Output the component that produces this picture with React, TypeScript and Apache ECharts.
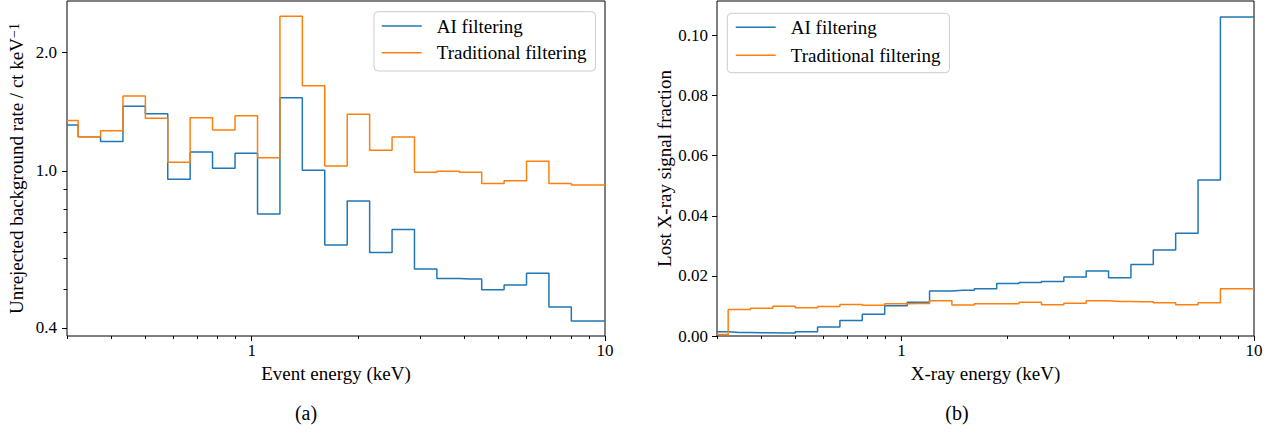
import React, { useEffect, useRef } from "react";
import * as echarts from "echarts";

// Energy grid (keV), one point per bin centre
const energies = [
  0.3, 0.3471, 0.4016, 0.4648, 0.5378, 0.6223, 0.7201, 0.8333, 0.9655, 1.1173,
  1.2929, 1.4962, 1.7321, 2.0046, 2.3203, 2.6852, 3.1075, 3.5962, 4.1617, 4.8161,
  5.5736, 6.4502, 7.4647, 8.6385, 10,
];

// (a) Unrejected background rate / ct keV^-1
const bgAI = [
  1.308, 1.222, 1.187, 1.459, 1.397, 0.953, 1.117, 1.016, 1.109, 0.778,
  1.534, 1.004, 0.649, 0.839, 0.621, 0.71, 0.564, 0.534, 0.532, 0.5,
  0.514, 0.55, 0.452, 0.4165, 0.4165,
];
const bgTrad = [
  1.342, 1.222, 1.265, 1.549, 1.36, 1.052, 1.365, 1.27, 1.381, 1.081,
  2.468, 1.646, 1.03, 1.393, 1.128, 1.22, 0.992, 0.998, 0.992, 0.929,
  0.945, 1.058, 0.929, 0.922, 0.922,
];

// (b) Lost X-ray signal fraction
const lostAI = [
  0.0014, 0.0012, 0.0011, 0.001, 0.0014, 0.003, 0.0052, 0.0072, 0.0101, 0.0112,
  0.015, 0.0152, 0.0157, 0.0175, 0.0178, 0.0181, 0.0196, 0.0216, 0.0194, 0.0238,
  0.0286, 0.0342, 0.0519, 0.1062, 0.1062,
];
const lostTrad = [
  0.0005, 0.0088, 0.0092, 0.0099, 0.0094, 0.0098, 0.0105, 0.0102, 0.0107, 0.0108,
  0.0117, 0.0103, 0.0107, 0.0107, 0.0112, 0.0104, 0.0109, 0.0117, 0.0115, 0.0114,
  0.0111, 0.0104, 0.0111, 0.0157, 0.0157,
];

const seriesNames = ["AI filtering", "Traditional filtering"];
const xMajorTicks = [1, 10];
const xMinorTicks = [0.3, 0.4, 0.5, 0.6, 0.7, 0.8, 0.9, 2, 3, 4, 5, 6, 7, 8, 9];
const bgLabelTicks = [0.4, 1, 2];
const bgMinorTicks = [0.5, 0.6, 0.7, 0.8, 0.9];
const lostTicks = [0, 0.02, 0.04, 0.06, 0.08, 0.1];

const FONT = "Liberation Serif";
const BLUE = "#1f77b4";
const ORANGE = "#ff7f0e";

const pairs = (ys: number[]) => energies.map((x, i) => [x, ys[i]]);

export default function App() {
  const ref = useRef<HTMLDivElement>(null);
  useEffect(() => {
    if (!ref.current) return;
    const chart = echarts.init(ref.current, null, { renderer: "svg" });

    const labelStyle = { fontFamily: FONT, fontSize: 17, color: "#000" };
    const nameStyle = { fontFamily: FONT, fontSize: 19, color: "#000" };

    const logX = (grid: number, major: boolean, name?: string) => ({
      type: "log",
      logBase: 10,
      gridIndex: grid,
      position: "bottom",
      min: 0.3,
      max: 10,
      name: major ? name : undefined,
      nameLocation: "middle",
      nameGap: 23,
      nameTextStyle: nameStyle,
      axisLine: { show: false },
      splitLine: { show: false },
      minorTick: { show: false },
      axisTick: {
        show: true,
        inside: false,
        length: major ? 5 : 3,
        customValues: major ? xMajorTicks : xMinorTicks,
        lineStyle: { color: "#000", width: 1 },
      },
      axisLabel: major
        ? {
            show: true,
            margin: 6,
            customValues: xMajorTicks,
            formatter: (v: number) => String(Math.round(v)),
            ...labelStyle,
          }
        : { show: false },
    });

    const legendBase = {
      orient: "vertical",
      selectedMode: false,
      data: seriesNames,
      itemWidth: 40,
      itemHeight: 20,
      itemStyle: { opacity: 0, color: "transparent", borderWidth: 0 },
      lineStyle: { width: 1.5 },
      borderColor: "#cccccc",
      borderWidth: 1,
      borderRadius: 4,
      backgroundColor: "rgba(255,255,255,0.8)",
      textStyle: {
        fontFamily: FONT,
        fontSize: 19,
        color: "#000",
        lineHeight: 20,
        padding: [0, 0, 0, 10],
      },
    };

    const lineSeries = (name: string, data: number[], color: string, xi: number, yi: number) => ({
      name,
      type: "line",
      step: "middle",
      data: pairs(data),
      xAxisIndex: xi,
      yAxisIndex: yi,
      symbol: "none",
      showSymbol: false,
      lineStyle: { color, width: 1.5 },
      itemStyle: { color },
      clip: true,
    });

    chart.setOption({
      animation: false,
      backgroundColor: "#fff",
      grid: [
        { left: 67, right: 671, top: 1, bottom: 100, show: true, borderColor: "#000", borderWidth: 1, backgroundColor: "transparent", containLabel: false, outerBoundsMode: "none" },
        { left: 717, right: 22, top: 1, bottom: 100, show: true, borderColor: "#000", borderWidth: 1, backgroundColor: "transparent", containLabel: false, outerBoundsMode: "none" },
      ],
      legend: [
        { ...legendBase, left: 374, top: 11.7, padding: [4.3, 9, 8.3, 7], itemGap: 6.7 },
        { ...legendBase, left: 727.3, top: 13.3, padding: [4, 9, 7.4, 7.7], itemGap: 8 },
      ],
      xAxis: [
        logX(0, true, "Event energy (keV)"),
        logX(0, false),
        logX(1, true, "X-ray energy (keV)"),
        logX(1, false),
      ],
      yAxis: [
        {
          type: "log",
          logBase: 10,
          gridIndex: 0,
          position: "left",
          min: 0.3815,
          max: 2.698,
          name: "Unrejected background rate / ct keV{sup|−1}",
          nameLocation: "middle",
          nameGap: 41,
          nameTextStyle: {
            ...nameStyle,
            rich: {
              sup: { fontFamily: FONT, fontSize: 14, color: "#000", verticalAlign: "top", lineHeight: 14 },
            },
          },
          axisLine: { show: false },
          splitLine: { show: false },
          minorTick: { show: false },
          axisTick: { show: true, length: 5, customValues: bgLabelTicks, lineStyle: { color: "#000" } },
          axisLabel: {
            show: true,
            margin: 10,
            customValues: bgLabelTicks,
            formatter: (v: number) => v.toFixed(1),
            ...labelStyle,
          },
        },
        {
          type: "log",
          logBase: 10,
          gridIndex: 0,
          position: "left",
          min: 0.3815,
          max: 2.698,
          axisLine: { show: false },
          splitLine: { show: false },
          minorTick: { show: false },
          axisTick: { show: true, length: 3.5, customValues: bgMinorTicks, lineStyle: { color: "#000" } },
          axisLabel: { show: false },
        },
        {
          type: "value",
          gridIndex: 1,
          position: "left",
          min: 0,
          max: 0.1115,
          name: "Lost X-ray signal fraction",
          nameLocation: "middle",
          nameGap: 43,
          nameTextStyle: nameStyle,
          axisLine: { show: false },
          splitLine: { show: false },
          minorTick: { show: false },
          axisTick: { show: true, length: 5, customValues: lostTicks, lineStyle: { color: "#000" } },
          axisLabel: {
            show: true,
            margin: 9,
            customValues: lostTicks,
            formatter: (v: number) => v.toFixed(2),
            ...labelStyle,
          },
        },
      ],
      series: [
        lineSeries(seriesNames[0], bgAI, BLUE, 0, 0),
        lineSeries(seriesNames[1], bgTrad, ORANGE, 0, 0),
        lineSeries(seriesNames[0], lostAI, BLUE, 2, 2),
        lineSeries(seriesNames[1], lostTrad, ORANGE, 2, 2),
      ],
      graphic: [
        { type: "text", x: 306, y: 413, style: { text: "(a)", fontFamily: FONT, fontSize: 20, fill: "#000", align: "center", verticalAlign: "middle" } },
        { type: "text", x: 957, y: 413, style: { text: "(b)", fontFamily: FONT, fontSize: 20, fill: "#000", align: "center", verticalAlign: "middle" } },
      ],
    });

    return () => chart.dispose();
  }, []);

  return (
    <div
      ref={ref}
      style={{ position: "absolute", left: 0, top: 0, width: 1276, height: 436 }}
    />
  );
}
